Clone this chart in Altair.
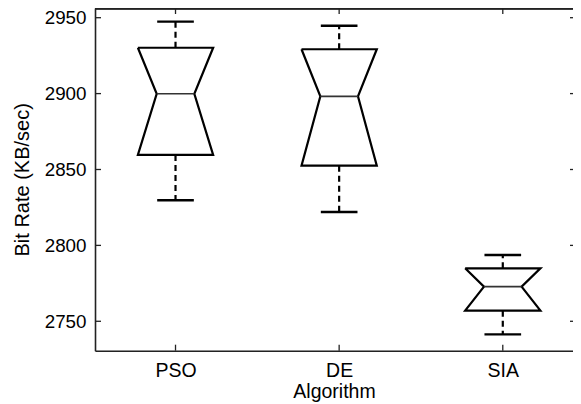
import altair as alt
import pandas as pd

# ---- data ----
categories = ["PSO", "DE", "SIA"]
positions = [1, 2, 3]
upper_whisker = [2947.4, 2944.7, 2793.7]
q3 = [2930.2, 2929.2, 2784.9]
median = [2899.9, 2898.2, 2772.8]
q1 = [2859.6, 2852.5, 2757.0]
lower_whisker = [2829.7, 2822.0, 2741.4]
y_ticks = [2750, 2800, 2850, 2900, 2950]

# ---- styling / geometry (not data) ----
BOX_HW = 0.23
NOTCH_HW = 0.115
CAP_HW = 0.112
W = 478
H = 342.7
FONT = "Liberation Sans"
INK = "#000000"

# ---- tables built from the arrays ----
outline_rows = []
for cat, p, hi, mid, lo in zip(categories, positions, q3, median, q1):
    pts = [(p - BOX_HW, hi), (p + BOX_HW, hi), (p + NOTCH_HW, mid),
           (p + BOX_HW, lo), (p - BOX_HW, lo), (p - NOTCH_HW, mid),
           (p - BOX_HW, hi)]
    for k, (xx, yy) in enumerate(pts):
        outline_rows.append({"cat": cat, "k": k, "x": xx, "y": yy})
outline = pd.DataFrame(outline_rows)

med_df = pd.DataFrame({"x": [p - NOTCH_HW for p in positions],
                       "x2": [p + NOTCH_HW for p in positions],
                       "y": median})
whisk_df = pd.DataFrame({"x": positions + positions,
                         "y": q3 + q1,
                         "y2": upper_whisker + lower_whisker})
cap_df = pd.DataFrame({"x": [p - CAP_HW for p in positions] * 2,
                       "x2": [p + CAP_HW for p in positions] * 2,
                       "y": upper_whisker + lower_whisker})
ytick_df = pd.DataFrame({"y": y_ticks})
xtick_df = pd.DataFrame({"x": positions})

label_expr = "[" + ",".join("'%s'" % c for c in categories) + "][datum.value - 1]"

xscale = alt.Scale(domain=[0.508, 3.429], nice=False, zero=False)
yscale = alt.Scale(domain=[2730.63, 2956.39], nice=False, zero=False)
xaxis = alt.Axis(values=positions, labelExpr=label_expr, title="Algorithm",
                 grid=False, ticks=False, tickSize=0, domain=True,
                 domainColor="#222222", domainWidth=1.4,
                 labelFont=FONT, labelFontSize=19.5, labelColor=INK,
                 labelPadding=10.5, titleFont=FONT, titleFontSize=19.5,
                 titleFontWeight="normal", titleColor=INK, titlePadding=3)
yaxis = alt.Axis(values=y_ticks, format="d", title="Bit Rate (KB/sec)",
                 grid=False, ticks=False, tickSize=0, domain=True,
                 domainColor="#222222", domainWidth=1.6,
                 labelFont=FONT, labelFontSize=18.8, labelColor=INK,
                 labelPadding=9, titleFont=FONT, titleFontSize=20,
                 titleFontWeight="normal", titleColor=INK, titlePadding=11.5)


def X(f="x"):
    return alt.X(f, type="quantitative", scale=xscale, axis=xaxis)


def Y(f="y"):
    return alt.Y(f, type="quantitative", scale=yscale, axis=yaxis)


box = alt.Chart(outline).mark_line(color=INK, strokeWidth=2.2,
                                   strokeJoin="miter").encode(
    x=X(), y=Y(), detail="cat:N", order="k:Q")

med = alt.Chart(med_df).mark_rule(color="#333333", strokeWidth=1.7).encode(
    x=X(), x2="x2:Q", y=Y())

whisk = alt.Chart(whisk_df).mark_rule(color=INK, strokeWidth=2.2,
                                      strokeDash=[6, 4]).encode(
    x=X(), y=Y(), y2="y2:Q")

caps = alt.Chart(cap_df).mark_rule(color=INK, strokeWidth=2.4).encode(
    x=X(), x2="x2:Q", y=Y())

left_ticks = alt.Chart(ytick_df).mark_rule(color="#222222", strokeWidth=1.3).encode(
    y=Y(), x=alt.value(0), x2=alt.value(6))
right_ticks = alt.Chart(ytick_df).mark_rule(color="#222222", strokeWidth=1.3).encode(
    y=Y(), x=alt.value(W - 3), x2=alt.value(W))
bottom_ticks = alt.Chart(xtick_df).mark_rule(color="#222222", strokeWidth=1.3).encode(
    x=X(), y=alt.value(H - 6), y2=alt.value(H))
top_ticks = alt.Chart(xtick_df).mark_rule(color="#222222", strokeWidth=1.3).encode(
    x=X(), y=alt.value(0), y2=alt.value(6))
top_frame = alt.Chart(xtick_df).mark_rule(color="#222222", strokeWidth=1.6).encode(
    x=alt.value(0), x2=alt.value(W), y=alt.value(0.8))

chart = alt.layer(
    top_frame, left_ticks, right_ticks, bottom_ticks, top_ticks,
    whisk, box, med, caps
).properties(
    width=W, height=H,
    autosize=alt.AutoSizeParams(type="none"),
    padding={"left": 87, "top": 0, "right": 0, "bottom": 53},
).configure_view(stroke=None).configure(background="white")

chart.save("out.html", embed_options={"renderer": "svg", "actions": False})
